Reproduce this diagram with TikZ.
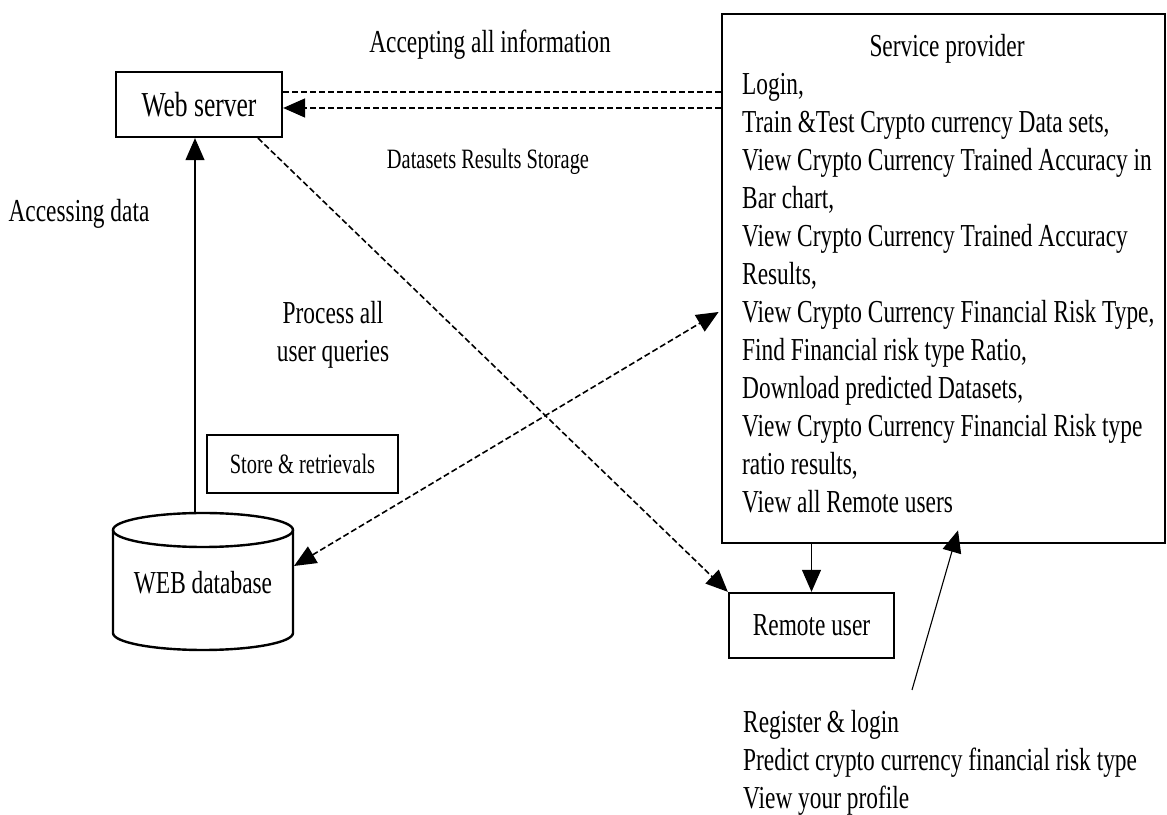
\documentclass[tikz,border=0pt]{standalone}
\usepackage{fontspec}
\setmainfont{Liberation Serif}[FakeStretch=0.73]
\usetikzlibrary{arrows.meta}
\begin{document}
\begin{tikzpicture}[x=1pt,y=1pt,
  box/.style={draw, line width=2.3pt, inner sep=0pt},
  big/.style={font=\fontsize{32}{38}\selectfont},
  bigger/.style={font=\fontsize{35}{38}\selectfont},
  small/.style={font=\fontsize{28}{34}\selectfont},
  dashline/.style={line width=1.6pt, dash pattern=on 6pt off 3pt},
  tip/.style={-{Triangle[length=22pt,width=19pt]}},
  thin/.style={line width=1.1pt}
]
\useasboundingbox[fill=white] (0,0) rectangle (1167,814);

% texts and boxes
\node[big] (accept) at (490,769) {Accepting all information};
\node[box, bigger, minimum width=166pt, minimum height=65pt] (ws) at (199,709.5) {Web server};
\node[small] (dsrs) at (488,652) {Datasets Results Storage};
\node[big] (access) at (79,600) {Accessing data};
\node[big, align=center] (process) at (333,479) {Process all\\user queries};
\node[box, line width=2pt, small, minimum width=191pt, minimum height=58pt] (store) at (302.5,350) {Store \& retrievals};

% database cylinder
\draw[line width=2.4pt] (203,284) ellipse [x radius=90pt, y radius=17pt];
\draw[line width=2.4pt] (113,284) -- (113,181) arc[start angle=180, end angle=360, x radius=90pt, y radius=17pt] -- (293,284);
\node[big, inner sep=0pt] (db) at (203,231) {WEB database};
\coordinate (dbtop) at (195,301);
\coordinate (dbside) at (294,248);

% service provider
\node[draw, line width=2.8pt, minimum width=443pt, minimum height=529pt, inner sep=0pt] (sp) at (943.5,535.5) {};
\node[big, anchor=base] (sptitle) at (947,757) {Service provider};
\node[big, align=left, anchor=north west, inner sep=0pt] (splist) at (742,741) {Login,\\
Train \&Test Crypto currency Data sets,\\
View Crypto Currency Trained Accuracy in\\
Bar chart,\\
View Crypto Currency Trained Accuracy\\
Results,\\
View Crypto Currency Financial Risk Type,\\
Find Financial risk type Ratio,\\
Download predicted Datasets,\\
View Crypto Currency Financial Risk type\\
ratio results,\\
View all Remote users};

% remote user
\node[box, big, minimum width=165pt, minimum height=65pt] (ru) at (811.5,188.5) {Remote user};
\node[big, align=left, anchor=north west, inner sep=0pt] (rulist) at (743,104) {Register \& login\\
Predict crypto currency financial risk type\\
View your profile};
\coordinate (rutail) at (912,124);

% connectors
\draw[dashline] ([yshift=12.5pt]ws.east) -- ([yshift=12.5pt]ws.east -| sp.west);
\draw[dashline, tip] ([yshift=-3.5pt]ws.east -| sp.west) -- ([yshift=-3.5pt]ws.east);
\draw[thin, tip] (dbtop) -- (dbtop |- ws.south);
\draw[dashline, tip] ([xshift=59pt]ws.south) -- (ru.north west);
\draw[dashline, {Triangle[length=22pt,width=19pt]}-{Triangle[length=22pt,width=19pt]}] (dbside) -- ([xshift=-2pt,yshift=-33.5pt]sp.west);
\draw[thin, tip] (ru.north |- sp.south) -- (ru.north);
\draw[thin, tip] (rutail) -- ([xshift=14.5pt,yshift=14pt]sp.south);
\end{tikzpicture}
\end{document}
